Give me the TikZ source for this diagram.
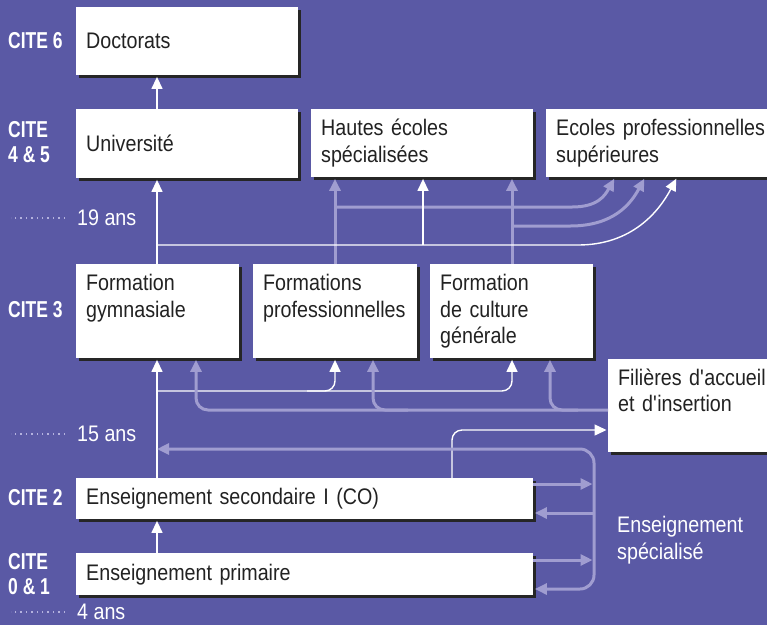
\documentclass[tikz,border=0pt]{standalone}
\usepackage{fontspec}
\setmainfont{Liberation Sans}[FakeStretch=0.875]
\newfontfamily\citefamily{Liberation Sans}[FakeStretch=0.76]
\usetikzlibrary{arrows.meta,shadows,positioning}
\definecolor{bgblue}{HTML}{5A59A5}
\definecolor{lilac}{HTML}{A09DD0}
\definecolor{dotlilac}{HTML}{B4B2DE}
\definecolor{boxtext}{HTML}{222222}
\definecolor{shade}{HTML}{262626}
\newcommand{\diagfont}{\fontsize{22.5pt}{26.5pt}\selectfont}
\newcommand{\citefont}{\citefamily\bfseries\fontsize{23pt}{25pt}\selectfont}
\hyphenpenalty=10000

\begin{document}
\begin{tikzpicture}[x=1pt,y=-1pt]
\tikzset{
    block/.style={rectangle, fill=white, anchor=north west, inner xsep=10pt, inner ysep=0pt,
      align=left, text=boxtext, font=\diagfont,
      drop shadow={shadow xshift=2.5pt, shadow yshift=-2.5pt, fill=shade, opacity=1}},
    cite/.style={anchor=west, align=left, inner sep=0pt, text=white, font=\citefont},
    age/.style={anchor=west, align=left, inner sep=0pt, text=white, font=\diagfont},
    leader/.style={draw=dotlilac, line width=1.4pt, dash pattern=on 1.4pt off 4pt},
    wline/.style={draw=white, line width=1.4pt},
    lline/.style={draw=lilac, line width=3pt},
    wtip/.style={-{Triangle[length=12pt,width=11pt]}, shorten >=1.5pt},
    ltip/.style={-{Triangle[length=12pt,width=11pt]}, shorten >=1.5pt}
}
  \fill[bgblue] (0,0) rectangle (767,625);
  \useasboundingbox (0,0) rectangle (767,625);

  \node[block, text width=202pt, minimum height=68pt] (doc) at (76,7) {Doctorats};
  \node[block, text width=202pt, minimum height=69pt] (uni) at (76,109) {Université};
  \node[block, text width=202pt, minimum height=68pt] (hes) at (311,109) {Hautes écoles\\spécialisées};
  \node[block, text width=224pt, minimum height=68pt] (eps) at (546,109) {Ecoles professionnelles\\supérieures};
  \node[block, text width=143pt, minimum height=94pt] (gym) at (76,264) {Formation\\gymnasiale\\\phantom{g}};
  \node[block, text width=144pt, minimum height=94pt] (fp) at (253,264) {Formations\\professionnelles\\\phantom{g}};
  \node[block, text width=143pt, minimum height=94pt] (fcg) at (430,264) {Formation\\de culture\\générale};
  \node[block, text width=170pt, minimum height=93pt] (fai) at (608,359) {Filières d\textquotesingle accueil\\et d\textquotesingle insertion\\\phantom{g}};
  \node[block, text width=437pt, minimum height=41pt] (sec) at (76,478) {Enseignement secondaire I (CO)};
  \node[block, text width=437pt, minimum height=42pt] (prim) at (76,553) {Enseignement primaire};

  \node[cite] (c6) at (8,41) {CITE 6};
  \node[cite] (c45) at (8,142) {CITE\\4 \& 5};
  \node[cite] (c3) at (8,310) {CITE 3};
  \node[cite] (c2) at (8,498) {CITE 2};
  \node[cite] (c01) at (8,574) {CITE\\0 \& 1};

  \node[age] (a19) at (77,218) {19 ans};
  \node[age] (a15) at (77,434) {15 ans};
  \node[age] (a4) at (77,612) {4 ans};
  \draw[leader] ([xshift=-12pt]a19.west) -- ++(-54pt,0pt);
  \draw[leader] ([xshift=-12pt]a15.west) -- ++(-54pt,0pt);
  \draw[leader] ([xshift=-12pt]a4.west) -- ++(-54pt,0pt);
  \node[age] (spec) at (617,540) {Enseignement\\spécialisé};

  % main white path
  \coordinate (spine) at (157,0);
  \draw[wline, wtip] (spine |- prim.north) -- (spine |- sec.south);
  \draw[wline, wtip] (spine |- sec.north) -- (spine |- gym.south);
  \draw[wline, wtip] (spine |- gym.north) -- (spine |- uni.south);
  \draw[wline, wtip] (spine |- uni.north) -- (spine |- doc.south);

  % into the tertiary level
  \coordinate (wmid) at (423,245);
  \coordinate (wbend) at (578,245);
  \coordinate (fpup) at (335,207);
  \coordinate (fpbend) at (572,207);
  \coordinate (fcgup) at (512,226);
  \coordinate (fcgbend) at (570,226);
  \draw[lline, ltip] (fpup |- fp.north) -- (fpup |- hes.south);
  \draw[lline, ltip] (fcgup |- fcg.north) -- (fcgup |- hes.south);
  \draw[lline, ltip] (fpup) -- (fpbend) .. controls +(26,0) and +(-10,18) .. ([xshift=69pt]eps.south west);
  \draw[lline, ltip] (fcgup) -- (fcgbend) .. controls +(44,0) and +(-14,26) .. ([xshift=99pt]eps.south west);
  \draw[wline, wtip] (wmid) -- (wmid |- hes.south);
  \draw[wline, wtip] (spine |- wmid) -- (wbend) .. controls +(54,0) and +(-18,34) .. ([xshift=131pt]eps.south west);

  % into the secondary II level
  \coordinate (wlow) at (157,391);
  \coordinate (llow) at (608,410);
  \draw[wline, wtip, rounded corners=10pt] (wlow) -| (fcgup |- fcg.south);
  \draw[wline, wtip, rounded corners=10pt] ([xshift=150pt]wlow) -| (fpup |- fp.south);
  \draw[lline, ltip, rounded corners=12pt] (llow) -| ([xshift=120pt]gym.south west);
  \draw[lline, ltip, rounded corners=12pt] ([xshift=-200pt]llow) -| ([xshift=120pt]fp.south west);
  \draw[lline, ltip, rounded corners=12pt] ([xshift=-30pt]llow) -| ([xshift=120pt]fcg.south west);
  \coordinate (faiin) at (608,430);
  \draw[wline, wtip, rounded corners=10pt] ([xshift=376pt]sec.north west) |- (faiin);

  % special education
  \coordinate (sbus) at (594,449);
  \coordinate (sbot) at (594,589);
  \coordinate (s1) at (594,484);
  \coordinate (s2) at (594,513);
  \coordinate (s3) at (594,560);
  \draw[lline, {Triangle[length=12pt,width=11pt]}-{Triangle[length=12pt,width=11pt]}, shorten >=1.5pt, rounded corners=14pt]
    (spine |- sbus) -- (sbus) -- (sbot) -- (prim.east |- sbot);
  \draw[lline, ltip] (s1 -| sec.east) -- (s1);
  \draw[lline, ltip] (s2) -- (s2 -| sec.east);
  \draw[lline, ltip] (s3 -| prim.east) -- (s3);
\end{tikzpicture}
\end{document}
